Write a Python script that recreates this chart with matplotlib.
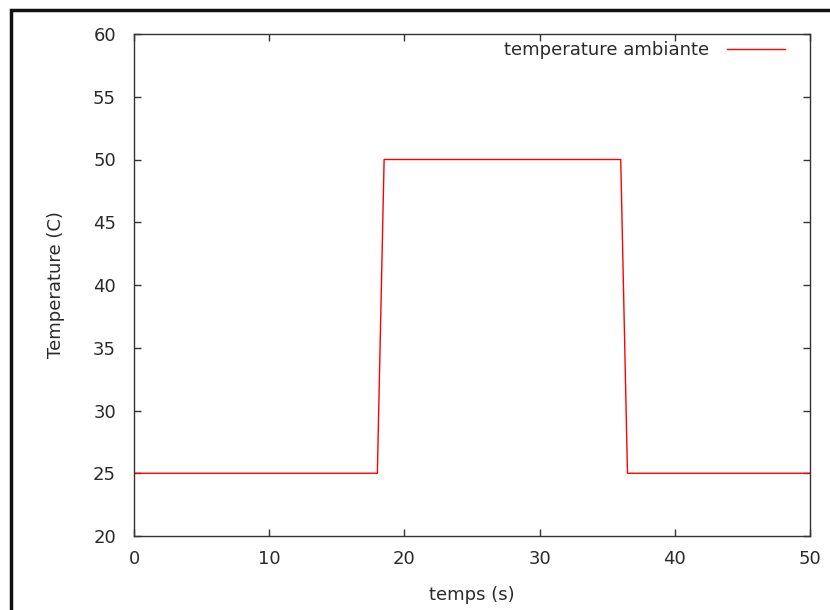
import matplotlib.pyplot as plt
from matplotlib.patches import Rectangle

# Données
temps = [0, 18, 18.5, 36, 36.5, 50]
temperature = [25, 25, 50, 50, 25, 25]
xticks = [0, 10, 20, 30, 40, 50]
yticks = [20, 25, 30, 35, 40, 45, 50, 55, 60]

plt.rcParams['font.family'] = ['DejaVu Sans']
txt = '#2a2a2a'

fig = plt.figure(figsize=(8.3, 6.1), dpi=100)
ax = fig.add_axes([134 / 830, 74 / 610, 676 / 830, 502 / 610])

ax.plot(temps, temperature, color='#ff0000', lw=1.0, label='temperature ambiante')

ax.set_xlim(0, 50)
ax.set_ylim(20, 60)
ax.set_xticks(xticks)
ax.set_yticks(yticks)
ax.tick_params(direction='in', top=True, right=True, length=5, width=1,
               color='#333333', labelsize=13, labelcolor=txt)
ax.tick_params(axis='y', pad=13)
ax.tick_params(axis='x', pad=10)
for s in ax.spines.values():
    s.set_color('#333333')
    s.set_linewidth(1.0)

ax.set_xlabel('temps (s)', fontsize=13, color=txt, labelpad=13)
ax.set_ylabel('Temperature (C)', fontsize=13, color=txt, labelpad=20)

ax.legend(loc='upper right', frameon=False, markerfirst=False, fontsize=13,
          handlelength=3.2, handletextpad=1.0, borderaxespad=0.0,
          bbox_to_anchor=(0.973, 1.0), labelcolor=txt)

# cadre noir de la capture d'écran
fig.patches.append(Rectangle((10.5 / 830, -0.1), 1.2, 1 - 9.5 / 610 + 0.1,
                             transform=fig.transFigure, fill=False,
                             edgecolor='#111111', lw=2.5))

fig.savefig('out.png', dpi=100)
